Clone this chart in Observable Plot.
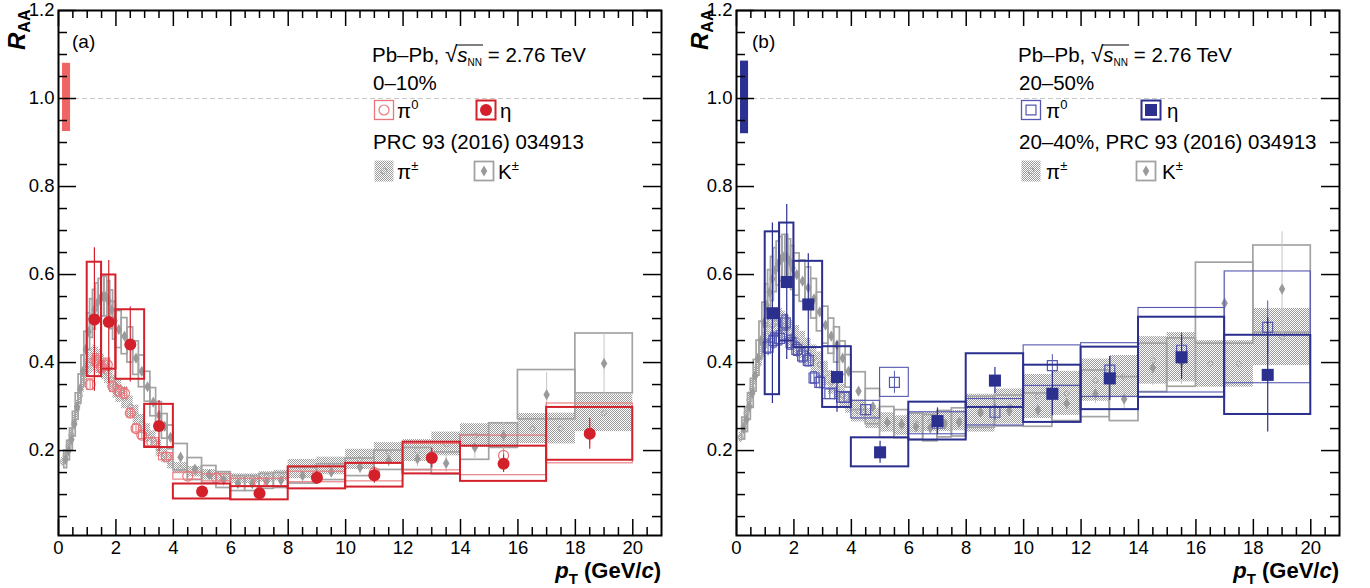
<!DOCTYPE html>
<html><head><meta charset="utf-8">
<script src="https://cdn.jsdelivr.net/npm/d3@7"></script>
<script src="https://cdn.jsdelivr.net/npm/@observablehq/plot@0.6"></script>
<style>
html,body{margin:0;padding:0;background:#fff;}
#wrap{display:flex;width:1370px;height:588px;overflow:hidden;}
#wrap svg{display:block;flex:none;}
</style></head><body><div id="wrap"></div>
<script>
// ---------------- axes / tick labels ----------------
const X_TICKS = [0, 2, 4, 6, 8, 10, 12, 14, 16, 18, 20];
const Y_TICKS = [0.2, 0.4, 0.6, 0.8, 1.0, 1.2];
const X_DOMAIN = [0, 21];
const Y_DOMAIN = [0.007, 1.2];

// ---------------- bin edges (GeV/c) ----------------
const chEdges = [0.1,0.2,0.3,0.4,0.5,0.6,0.7,0.8,0.9,1.0,1.1,1.2,1.3,1.4,1.5,1.6,1.7,1.8,1.9,2.0,
  2.2,2.4,2.6,2.8,3.0,3.2,3.4,3.6,3.8,4.0,4.5,5.0,5.5,6.0,6.5,7.0,7.5,8.0,9,10,11,12,13,14,15,16,17,18,20];
const kEdges = [0.2,0.3,0.4,0.5,0.6,0.7,0.8,0.9,1.0,1.1,1.2,1.3,1.4,1.5,1.6,1.7,1.8,1.9,2.0,
  2.2,2.4,2.6,2.8,3.0,3.2,3.4,3.6,3.8,4.0,4.5,5.0,5.5,6.0,6.5,7.0,7.5,8.0,9,10,11,12,13,14,15,16,18,20];
const pi0Edges = [1.0,1.2,1.4,1.6,1.8,2.0,2.2,2.4,2.6,2.8,3.0,3.5,4.0,5,6,8,10,12,14,17,20];
const etaEdges = [1,1.5,2,3,4,6,8,10,12,14,17,20];
const normEdges = [0.14, 0.42];

// ---------------- panel (a): 0-10% ----------------
const chA_y = [0.175,0.19,0.21,0.235,0.265,0.295,0.325,0.355,0.38,
  0.395,0.405,0.41,0.405,0.40,0.39,0.38,0.37,0.36,0.345,
  0.335,0.32,0.30,0.28,0.26,0.24,0.225,0.205,0.19,0.175,
  0.16,0.152,0.145,0.14,0.136,0.136,0.14,0.143,
  0.158,0.165,0.18,0.195,0.2,0.215,0.234,0.235,0.25,0.25,
  0.285];
const chA_sys = [0.01,0.012,0.014,0.016,0.018,0.02,0.022,0.024,0.026,
  0.028,0.029,0.03,0.03,0.03,0.029,0.028,0.028,0.027,0.026,
  0.026,0.025,0.024,0.023,0.022,0.021,0.02,0.019,0.018,0.017,
  0.013,0.012,0.012,0.011,0.011,0.011,0.012,0.012,
  0.022,0.02,0.023,0.023,0.025,0.027,0.027,0.028,0.034,0.035,
  0.042];
const kA_y = [0.18,0.2,0.225,0.26,0.3,0.34,0.38,0.43,
  0.47,0.5,0.52,0.535,0.545,0.55,0.55,0.54,0.52,0.495,
  0.475,0.46,0.44,0.41,0.38,0.345,0.31,0.28,0.255,0.23,
  0.185,0.158,0.145,0.133,0.125,0.125,0.13,0.132,
  0.143,0.151,0.162,0.178,0.181,0.171,0.207,0.234,
  0.327,0.398];
const kA_sys = [0.02,0.022,0.025,0.028,0.03,0.033,0.036,0.04,
  0.042,0.044,0.045,0.045,0.045,0.045,0.045,0.045,0.044,0.043,
  0.042,0.041,0.04,0.038,0.036,0.034,0.032,0.03,0.028,0.027,
  0.03,0.025,0.02,0.018,0.017,0.017,0.017,0.017,
  0.018,0.018,0.02,0.022,0.025,0.025,0.028,0.028,
  0.056,0.068];
const kA_stat = [0,0,0,0,0,0,0,0,
  0,0,0,0,0,0,0,0,0,0,
  0,0,0,0,0,0,0,0,0,0,
  0.005,0.005,0.006,0.006,0.007,0.007,0.008,0.008,
  0.01,0.012,0.013,0.015,0.018,0.02,0.025,0.03,
  0.05,0.068];
const pi0A_y = [0.35,0.405,0.39,0.395,0.345,0.335,0.33,0.285,0.25,0.235,0.219,0.186,0.142,0.138,0.127,0.14,0.15,0.185,0.189,0.239];
const pi0A_sys = [0.012,0.014,0.014,0.014,0.012,0.012,0.012,0.01,0.009,0.009,0.009,0.008,0.008,0.008,0.009,0.012,0.02,0.03,0.045,0.068];
const pi0A_stat = [0.01,0.01,0.01,0.01,0.01,0.01,0.01,0.01,0.01,0.01,0.008,0.008,0.005,0.005,0.005,0.006,0.008,0.012,0.015,0.025];
const etaA_y = [0.498,0.492,0.441,0.256,0.107,0.103,0.138,0.144,0.183,0.170,0.238];
const etaA_sys = [0.13,0.107,0.079,0.049,0.017,0.015,0.025,0.027,0.036,0.04,0.06];
const etaA_stat = [0.163,0.14,0.085,0.058,0.012,0.01,0.015,0.018,0.022,0.02,0.035];
const normA = [0.925, 1.08];

// ---------------- panel (b): 20-50% (charged: 20-40%) ----------------
const chB_y = [0.23,0.255,0.285,0.315,0.34,0.37,0.395,0.42,0.44,
  0.46,0.475,0.485,0.49,0.49,0.488,0.483,0.477,0.47,0.462,
  0.452,0.44,0.425,0.41,0.395,0.375,0.355,0.34,0.325,0.31,
  0.29,0.273,0.264,0.257,0.262,0.265,0.265,0.268,
  0.285,0.3,0.323,0.33,0.36,0.368,0.405,0.412,0.397,0.397,
  0.458];
const chB_sys = [0.012,0.014,0.016,0.018,0.02,0.022,0.024,0.026,0.028,
  0.03,0.032,0.034,0.035,0.035,0.035,0.034,0.034,0.033,0.033,
  0.032,0.031,0.03,0.03,0.029,0.028,0.027,0.026,0.025,0.025,
  0.025,0.023,0.022,0.022,0.022,0.022,0.022,0.023,
  0.043,0.04,0.05,0.05,0.048,0.048,0.054,0.056,0.053,0.053,
  0.065];
const kB_y = [0.25,0.27,0.3,0.33,0.37,0.41,0.45,0.49,
  0.53,0.56,0.59,0.61,0.625,0.635,0.64,0.64,0.63,0.615,
  0.6,0.585,0.57,0.545,0.515,0.485,0.46,0.44,0.41,0.38,
  0.335,0.30,0.264,0.26,0.254,0.251,0.26,0.264,
  0.287,0.29,0.292,0.307,0.329,0.317,0.388,0.40,
  0.535,0.567];
const kB_sys = [0.025,0.028,0.03,0.033,0.036,0.04,0.043,0.046,
  0.048,0.05,0.05,0.05,0.05,0.05,0.05,0.05,0.05,0.05,
  0.048,0.047,0.046,0.045,0.044,0.042,0.04,0.04,0.038,0.037,
  0.043,0.04,0.035,0.032,0.03,0.03,0.03,0.032,
  0.035,0.035,0.038,0.04,0.053,0.05,0.055,0.055,
  0.092,0.099];
const kB_stat = [0,0,0,0,0,0,0,0,
  0,0,0,0,0,0,0,0,0,0,
  0,0,0,0,0,0,0,0,0,0,
  0.006,0.006,0.006,0.006,0.006,0.006,0.006,0.006,
  0.012,0.014,0.016,0.018,0.022,0.025,0.04,0.05,
  0.07,0.13];
const pi0B_y = [0.435,0.45,0.455,0.49,0.445,0.43,0.415,0.405,0.365,0.355,0.329,0.321,0.293,0.355,0.262,0.287,0.393,0.383,0.428,0.48];
const pi0B_sys = [0.015,0.016,0.016,0.017,0.016,0.015,0.015,0.014,0.013,0.013,0.012,0.012,0.02,0.033,0.025,0.03,0.046,0.061,0.096,0.127];
const pi0B_stat = [0.02,0.02,0.02,0.02,0.018,0.018,0.015,0.015,0.015,0.015,0.012,0.012,0.012,0.025,0.015,0.018,0.025,0.03,0.04,0.06];
const etaB_y = [0.512,0.583,0.532,0.367,0.196,0.267,0.359,0.329,0.364,0.412,0.372];
const etaB_sys = [0.185,0.134,0.098,0.069,0.033,0.043,0.061,0.065,0.071,0.091,0.09];
const etaB_stat = [0.205,0.176,0.115,0.08,0.025,0.03,0.03,0.05,0.05,0.05,0.13];
const normB = [0.92, 1.085];

// ---------------- helpers ----------------
const W = 685, H = 588;
const FONT = "'Liberation Sans', Arial, Helvetica, sans-serif";
const LF = 20.5; // legend font size
const X_MINOR = d3.range(1, 42).map(i => i * 0.5).filter(v => v % 2 !== 0);
const Y_MINOR = d3.range(1, 24).filter(i => i % 4 !== 0).map(i => i * 0.05);

function binned(edges, ys, sys, stat) {
  return ys.map((y, i) => ({
    lo: edges[i], hi: edges[i + 1], pt: (edges[i] + edges[i + 1]) / 2,
    y, sys: sys[i], stat: stat ? stat[i] : 0
  }));
}

function rich(g, x, y, parts, opt = {}) {
  const grp = g.append("g").attr("text-anchor", "start");
  let cx = 0; const pos = [];
  for (const p of parts) {
    const el = grp.append("text").attr("x", cx).attr("y", p.dy || 0)
      .attr("text-anchor", "start")
      .attr("font-size", p.size).attr("font-weight", p.weight || "normal")
      .attr("font-style", p.style || "normal").text(p.t);
    const w = el.node().getComputedTextLength();
    pos.push({x: cx, w});
    cx += w + (p.gap || 0);
  }
  const x0 = opt.anchor === "end" ? x - cx : x;
  grp.attr("transform", `translate(${opt.rotate ? x : x0},${y})` + (opt.rotate ? ` rotate(${opt.rotate})` : ""));
  return {grp, pos, width: cx, x0};
}

function marker(g, cx, cy, kind, cfg, patId) {
  const s = 9.5;
  const sym = (type, size) => d3.symbol(type, size)();
  if (kind === "pi0") {
    g.append("rect").attr("x", cx - s).attr("y", cy - s).attr("width", 2 * s).attr("height", 2 * s)
      .attr("fill", "none").attr("stroke", cfg.pi0Color).attr("stroke-width", 1.3);
    g.append("path").attr("d", sym(cfg.pi0Symbol === "square" ? d3.symbolSquare : d3.symbolCircle, Math.PI * cfg.pi0R * cfg.pi0R))
      .attr("transform", `translate(${cx},${cy})`).attr("fill", "none").attr("stroke", cfg.pi0Color).attr("stroke-width", 1.2);
  } else if (kind === "eta") {
    g.append("rect").attr("x", cx - s).attr("y", cy - s).attr("width", 2 * s).attr("height", 2 * s)
      .attr("fill", "none").attr("stroke", cfg.etaColor).attr("stroke-width", 2);
    g.append("path").attr("d", sym(cfg.etaSymbol === "square" ? d3.symbolSquare : d3.symbolCircle, Math.PI * cfg.etaR * cfg.etaR))
      .attr("transform", `translate(${cx},${cy})`).attr("fill", cfg.etaColor);
  } else if (kind === "ch") {
    g.append("rect").attr("x", cx - s).attr("y", cy - 10.5).attr("width", 2 * s).attr("height", 21)
      .attr("fill", `url(#${patId})`);
    g.append("circle").attr("cx", cx).attr("cy", cy).attr("r", 3).attr("fill", "none").attr("stroke", "#a8a8a8").attr("stroke-width", 0.9);
  } else if (kind === "k") {
    g.append("rect").attr("x", cx - s).attr("y", cy - s).attr("width", 2 * s).attr("height", 2 * s)
      .attr("fill", "none").attr("stroke", "#a3a3a3").attr("stroke-width", 1.8);
    g.append("path").attr("d", sym(d3.symbolDiamond, Math.PI * 3.4 * 3.4))
      .attr("transform", `translate(${cx},${cy})`).attr("fill", "#9a9a9a");
  }
}

function makePanel(cfg) {
  const {marginLeft, marginRight} = cfg;
  const marginTop = 10, marginBottom = 53;
  const innerW = W - marginLeft - marginRight, innerH = H - marginTop - marginBottom;
  const ch = binned(chEdges, cfg.chY, cfg.chSys);
  const k = binned(kEdges, cfg.kY, cfg.kSys, cfg.kStat);
  const pi0 = binned(pi0Edges, cfg.pi0Y, cfg.pi0Sys, cfg.pi0Stat);
  const eta = binned(etaEdges, cfg.etaY, cfg.etaSys, cfg.etaStat);
  const norm = [{lo: normEdges[0], hi: normEdges[1], y1: cfg.norm[0], y2: cfg.norm[1]}];
  const SENT = "#010203";
  const box = {x1: "lo", x2: "hi", y1: d => d.y - d.sys, y2: d => d.y + d.sys};
  const bar = {x: "pt", y1: d => d.y - d.stat, y2: d => d.y + d.stat};
  const tk = {stroke: "black", strokeWidth: 1.5};
  const svg = Plot.plot({
    width: W, height: H, marginLeft, marginRight, marginTop, marginBottom,
    x: {type: "linear", domain: X_DOMAIN, axis: null},
    y: {type: "linear", domain: Y_DOMAIN, axis: null},
    style: {fontFamily: FONT, background: "white", color: "black"},
    marks: [
      Plot.ruleY([1], {stroke: "#c8c8c8", strokeDasharray: "5,3", strokeWidth: 1}),
      Plot.rect(norm, {x1: "lo", x2: "hi", y1: "y1", y2: "y2", fill: cfg.normColor}),
      Plot.rect(ch, {...box, fill: SENT}),
      Plot.dot(ch, {x: "pt", y: "y", r: 2.6, stroke: "#a8a8a8", strokeWidth: 0.9, fill: "none"}),
      Plot.rect(k, {...box, fill: "none", stroke: "#a3a3a3", strokeWidth: 1.7}),
      Plot.ruleX(k.filter(d => d.stat > 0), {...bar, stroke: "#c4c4c4", strokeWidth: 1}),
      Plot.dot(k, {x: "pt", y: "y", symbol: "diamond", r: 3.4, fill: "#9a9a9a"}),
      Plot.rect(pi0, {...box, fill: "none", stroke: cfg.pi0Color, strokeWidth: 1.1}),
      Plot.ruleX(pi0, {...bar, stroke: cfg.pi0Color, strokeWidth: 1}),
      Plot.dot(pi0, {x: "pt", y: "y", symbol: cfg.pi0Symbol, r: cfg.pi0R, stroke: cfg.pi0Color, strokeWidth: 1.2, fill: "none"}),
      Plot.rect(eta, {...box, fill: "none", stroke: cfg.etaColor, strokeWidth: 2}),
      Plot.ruleX(eta, {...bar, stroke: cfg.etaColor, strokeWidth: 1.2}),
      Plot.dot(eta, {x: "pt", y: "y", symbol: cfg.etaSymbol, r: cfg.etaR, fill: cfg.etaColor}),
      Plot.tickX(X_TICKS, {x: d => d, insetTop: innerH - 16, ...tk}),
      Plot.tickX(X_MINOR, {x: d => d, insetTop: innerH - 8, ...tk}),
      Plot.tickX(X_TICKS, {x: d => d, insetBottom: innerH - 16, ...tk}),
      Plot.tickX(X_MINOR, {x: d => d, insetBottom: innerH - 8, ...tk}),
      Plot.tickY(Y_TICKS, {y: d => d, insetRight: innerW - 18, ...tk}),
      Plot.tickY(Y_MINOR, {y: d => d, insetRight: innerW - 9, ...tk}),
      Plot.tickY(Y_TICKS, {y: d => d, insetLeft: innerW - 18, ...tk}),
      Plot.tickY(Y_MINOR, {y: d => d, insetLeft: innerW - 9, ...tk}),
      Plot.frame({stroke: "black", strokeWidth: 2}),
      Plot.axisX(X_TICKS, {anchor: "bottom", tickSize: 0, tickPadding: 5, fontSize: 18.5, label: null, tickFormat: d => String(d)}),
      Plot.axisY(Y_TICKS, {anchor: "left", tickSize: 0, tickPadding: 4, fontSize: 18.5, label: null, tickFormat: d => d.toFixed(1)})
    ]
  });
  document.getElementById("wrap").appendChild(svg);

  // stipple pattern for charged-pion boxes
  const patId = "stip" + cfg.tag.replace(/\W/g, "");
  const defs = d3.select(svg).insert("defs", ":first-child");
  const p = defs.append("pattern").attr("id", patId).attr("width", 2).attr("height", 2).attr("patternUnits", "userSpaceOnUse");
  p.append("rect").attr("width", 1).attr("height", 1).attr("fill", "#9a9a9a");
  p.append("rect").attr("x", 1).attr("y", 1).attr("width", 1).attr("height", 1).attr("fill", "#9a9a9a");
  svg.querySelectorAll(`[fill="${SENT}"]`).forEach(el => el.setAttribute("fill", `url(#${patId})`));

  // text overlays
  const g = d3.select(svg).append("g").attr("font-family", FONT).attr("fill", "black").attr("text-anchor", "start");
  rich(g, cfg.rX, 50, [{t: "R", size: 24, weight: "bold", style: "italic"}, {t: "AA", size: 16, weight: "bold", dy: 5}], {rotate: -90});
  rich(g, W - marginRight, 578, [{t: "p", size: 22, weight: "bold", style: "italic"}, {t: "T", size: 15, weight: "bold", dy: 6}, {t: " (GeV/", size: 22, weight: "bold"}, {t: "c", size: 22, weight: "bold", style: "italic"}, {t: ")", size: 22, weight: "bold"}], {anchor: "end"});
  rich(g, cfg.tagX, 48, [{t: cfg.tag, size: 19}]);
  const L = cfg.leg;
  const e = rich(g, L.x, 62, [{t: "Pb–Pb, ", size: LF}, {t: "√", size: LF + 2}, {t: "s", size: LF, style: "italic"}, {t: "NN", size: 10, dy: 4}, {t: " = 2.76 TeV", size: LF}]);
  g.append("line").attr("x1", e.x0 + e.pos[2].x - 1).attr("x2", e.x0 + e.pos[3].x + e.pos[3].w + 1)
    .attr("y1", 62 - 17).attr("y2", 62 - 17).attr("stroke", "black").attr("stroke-width", 1);
  rich(g, L.x + 1, 90, [{t: cfg.cent, size: LF}]);
  marker(g, L.m1, 110, "pi0", cfg, patId);
  rich(g, L.m1 + L.off, 118, [{t: "π", size: LF}, {t: "0", size: 13, dy: -9}]);
  marker(g, L.m2, 110, "eta", cfg, patId);
  rich(g, L.m2 + L.off + 1, 118, [{t: "η", size: LF}]);
  rich(g, L.x + 1, 149, [{t: cfg.ref, size: LF}]);
  marker(g, L.m1, 171, "ch", cfg, patId);
  rich(g, L.m1 + L.off, 179, [{t: "π", size: LF}, {t: "±", size: 13, dy: -9}]);
  marker(g, L.m3, 171, "k", cfg, patId);
  rich(g, L.m3 + L.off + 1, 179, [{t: "K", size: LF}, {t: "±", size: 13, dy: -9}]);
}

makePanel({
  tag: "(a)", marginLeft: 58, marginRight: 24, rX: 25, tagX: 72,
  cent: "0–10%", ref: "PRC 93 (2016) 034913",
  leg: {x: 372, m1: 384, m2: 486, m3: 484, off: 13},
  chY: chA_y, chSys: chA_sys, kY: kA_y, kSys: kA_sys, kStat: kA_stat,
  pi0Y: pi0A_y, pi0Sys: pi0A_sys, pi0Stat: pi0A_stat,
  etaY: etaA_y, etaSys: etaA_sys, etaStat: etaA_stat, norm: normA,
  etaColor: "#d3202a", pi0Color: "#e8767b", normColor: "#f06464",
  pi0Symbol: "circle", pi0R: 5, etaSymbol: "circle", etaR: 6
});
makePanel({
  tag: "(b)", marginLeft: 51, marginRight: 31, rX: 22.5, tagX: 67,
  cent: "20–50%", ref: "20–40%, PRC 93 (2016) 034913",
  leg: {x: 333, m1: 346, m2: 466, m3: 461, off: 15},
  chY: chB_y, chSys: chB_sys, kY: kB_y, kSys: kB_sys, kStat: kB_stat,
  pi0Y: pi0B_y, pi0Sys: pi0B_sys, pi0Stat: pi0B_stat,
  etaY: etaB_y, etaSys: etaB_sys, etaStat: etaB_stat, norm: normB,
  etaColor: "#2b2f8e", pi0Color: "#5557b0", normColor: "#2b3192",
  pi0Symbol: "square", pi0R: 5.6, etaSymbol: "square", etaR: 6.8
});
</script></body></html>
